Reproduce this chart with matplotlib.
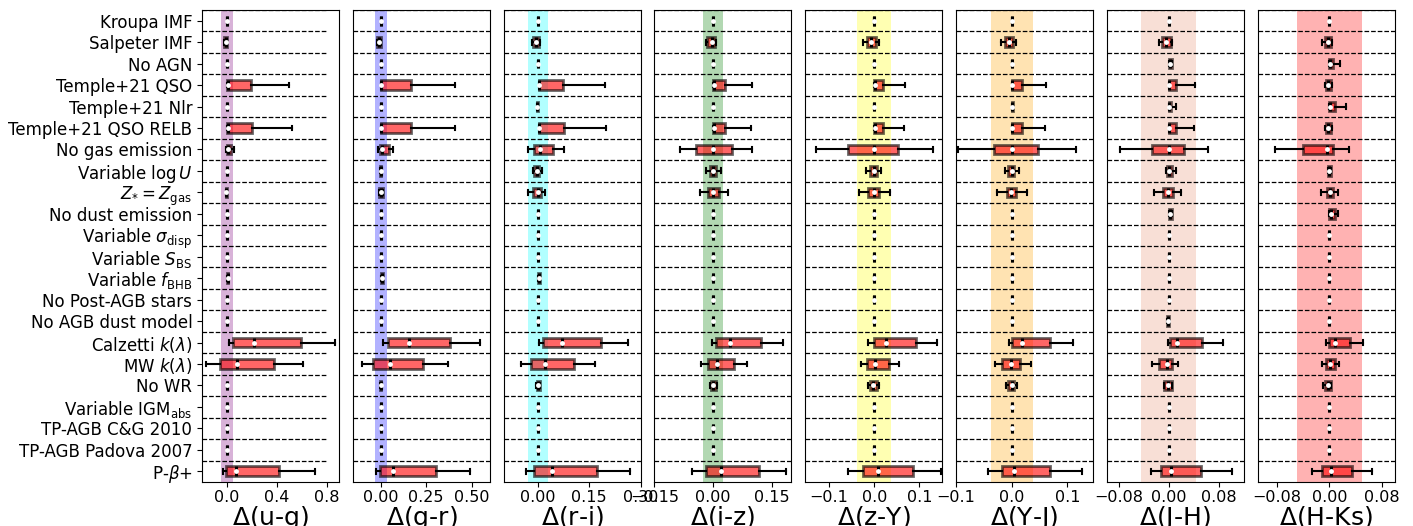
import matplotlib
matplotlib.use("Agg")
import matplotlib.pyplot as plt

# rows, top to bottom
models = ['Kroupa IMF', 'Salpeter IMF', 'No AGN', 'Temple+21 QSO', 'Temple+21 Nlr',
          'Temple+21 QSO RELB', 'No gas emission', 'Variable $\\log U$',
          '$Z_{*} = Z_{\\rm gas}$', 'No dust emission', 'Variable $\\sigma_{\\rm disp}$',
          'Variable $S_{\\rm BS}$', 'Variable $f_{\\rm BHB}$', 'No Post-AGB stars',
          'No AGB dust model', 'Calzetti $k(\\lambda)$', 'MW $k(\\lambda)$', 'No WR',
          'Variable IGM$_{\\rm abs}$', 'TP-AGB C&G 2010', 'TP-AGB Padova 2007', 'P-$\\beta$+']

Z = (0, 0, 0, 0, 0)

# (whisker low, q1, median, q3, whisker high) per model
ug_stats = [Z, (-0.02, -0.02, -0.01, 0.0, 0.0), Z, (0.0, 0.0, 0.005, 0.19, 0.50), Z,
            (0.0, 0.0, 0.005, 0.20, 0.52), (-0.01, 0.0, 0.01, 0.035, 0.06), Z,
            (-0.01, -0.01, -0.005, 0.0, 0.0), Z, Z, Z, (0.0, 0.0, 0.005, 0.01, 0.01), Z, Z,
            (0.02, 0.05, 0.215, 0.59, 0.87), (-0.17, -0.06, 0.08, 0.38, 0.61), Z, Z, Z, Z,
            (-0.035, -0.01, 0.075, 0.42, 0.71)]
gr_stats = [Z, (-0.02, -0.02, -0.01, 0.0, 0.0), Z, (0.0, 0.0, 0.003, 0.164, 0.406), Z,
            (0.0, 0.0, 0.003, 0.168, 0.41), (-0.015, -0.003, 0.009, 0.045, 0.067),
            (-0.005, -0.004, 0.0, 0.004, 0.005), (-0.01, -0.01, 0.0, 0.01, 0.01), Z, Z, Z,
            (0.0, 0.0, 0.005, 0.01, 0.01), Z, Z, (0.015, 0.042, 0.155, 0.383, 0.543),
            (-0.1, -0.04, 0.049, 0.233, 0.368), (-0.005, -0.004, 0.0, 0.004, 0.005), Z, Z, Z,
            (-0.027, -0.005, 0.067, 0.306, 0.49)]
ri_stats = [Z, (-0.016, -0.014, -0.005, 0.004, 0.005), Z, (0.002, 0.002, 0.004, 0.073, 0.196),
            (-0.003, -0.003, -0.002, 0.0, 0.0), (0.002, 0.002, 0.004, 0.075, 0.198),
            (-0.03, -0.01, 0.007, 0.045, 0.077), (-0.015, -0.01, -0.002, 0.004, 0.012),
            (-0.03, -0.015, 0.0, 0.008, 0.022), Z, Z, Z, (0.0, 0.0, 0.002, 0.005, 0.005), Z, Z,
            (0.003, 0.015, 0.071, 0.185, 0.262), (-0.05, -0.019, 0.02, 0.105, 0.167),
            (-0.005, -0.004, 0.0, 0.005, 0.006), Z, Z, Z, (-0.036, -0.012, 0.04, 0.173, 0.269)]
iz_stats = [Z, (-0.018, -0.016, -0.004, 0.004, 0.006), Z, (0.0, 0.0, 0.001, 0.031, 0.099), Z,
            (0.0, 0.0, 0.001, 0.031, 0.097), (-0.085, -0.043, 0.0, 0.048, 0.099),
            (-0.018, -0.007, 0.0, 0.008, 0.019), (-0.034, -0.013, 0.0, 0.014, 0.037),
            Z, Z, Z, Z, Z, Z, (-0.004, 0.006, 0.044, 0.123, 0.178),
            (-0.032, -0.013, 0.01, 0.054, 0.086), (-0.008, -0.006, 0.0, 0.008, 0.01), Z, Z, Z,
            (-0.053, -0.018, 0.02, 0.116, 0.186)]
zy_stats = [Z, (-0.024, -0.015, -0.007, 0.004, 0.01), Z, (0.0, 0.0, 0.001, 0.019, 0.069), Z,
            (0.0, 0.0, 0.001, 0.019, 0.067), (-0.13, -0.059, 0.0, 0.052, 0.13),
            (-0.018, -0.009, 0.0, 0.006, 0.015), (-0.033, -0.013, 0.0, 0.01, 0.036),
            Z, Z, Z, Z, Z, Z, (-0.013, 0.0, 0.027, 0.093, 0.139),
            (-0.03, -0.015, 0.002, 0.032, 0.054), (-0.013, -0.01, -0.002, 0.006, 0.011), Z, Z, Z,
            (-0.057, -0.024, 0.009, 0.086, 0.149)]
yj_stats = [Z, (-0.02, -0.012, -0.005, 0.002, 0.008), Z, (0.0, 0.0, 0.001, 0.018, 0.062),
            (0.0, 0.0, 0.001, 0.003, 0.003), (0.0, 0.0, 0.001, 0.018, 0.06),
            (-0.096, -0.031, 0.0, 0.047, 0.115), (-0.012, -0.006, 0.0, 0.004, 0.013),
            (-0.027, -0.009, -0.001, 0.008, 0.027), Z, Z, Z, Z, Z, Z,
            (-0.005, 0.0, 0.018, 0.069, 0.11), (-0.03, -0.018, -0.002, 0.015, 0.034),
            (-0.01, -0.006, 0.0, 0.005, 0.01), Z, Z, Z, (-0.043, -0.018, 0.005, 0.068, 0.127)]
jh_stats = [Z, (-0.0155, -0.01, -0.004, 0.004, 0.005), (0.0, 0.0, 0.002, 0.005, 0.005),
            (0.0, 0.0, 0.001, 0.011, 0.042), (0.0, 0.0, 0.001, 0.004, 0.012),
            (0.0, 0.0, 0.001, 0.011, 0.041), (-0.078, -0.027, 0.0, 0.025, 0.062),
            (-0.004, -0.003, 0.0, 0.005, 0.011), (-0.0235, -0.0085, -0.001, 0.007, 0.019),
            (0.0, 0.0, 0.002, 0.005, 0.006), Z, Z, Z, Z, (-0.002, -0.002, -0.001, 0.0, 0.0),
            (-0.001, 0.002, 0.014, 0.053, 0.086), (-0.026, -0.0155, -0.002, 0.006, 0.015),
            (-0.008, -0.008, -0.001, 0.006, 0.006), Z, Z, Z, (-0.028, -0.012, 0.004, 0.052, 0.101)]
hk_stats = [Z, (-0.011, -0.0065, -0.0025, 0.0025, 0.004), (0.0, 0.0, 0.001, 0.006, 0.017),
            (-0.0065, -0.005, -0.002, 0.003, 0.004), (0.0, 0.0, 0.0015, 0.009, 0.025),
            (-0.006, -0.005, -0.002, 0.003, 0.004), (-0.083, -0.041, -0.004, 0.006, 0.03),
            (-0.002, -0.002, 0.0, 0.003, 0.003), (-0.013, -0.004, 0.0015, 0.006, 0.014),
            (0.0, 0.0, 0.003, 0.008, 0.013), Z, Z, Z, Z, Z,
            (-0.005, 0.0, 0.0087, 0.0315, 0.052), (-0.0115, -0.0055, 0.0015, 0.009, 0.015),
            (-0.009, -0.006, -0.002, 0.003, 0.003), Z, Z, Z, (-0.027, -0.011, 0.002, 0.034, 0.066)]

colours = ['u-g', 'g-r', 'r-i', 'i-z', 'z-Y', 'Y-J', 'J-H', 'H-Ks']
all_stats = [ug_stats, gr_stats, ri_stats, iz_stats, zy_stats, yj_stats, jh_stats, hk_stats]
band_half = [0.05, 0.033, 0.03, 0.025, 0.0375, 0.038, 0.044, 0.05]
band_col = ['purple', 'blue', 'cyan', 'green', 'yellow', 'orange', 'darksalmon', 'red']
xlims = [(-0.2, 0.9), (-0.153, 0.60), (-0.10, 0.30), (-0.15, 0.20),
         (-0.153, 0.151), (-0.1, 0.146), (-0.099, 0.12), (-0.11, 0.10)]
xticks = [[0, 0.4, 0.8], [0, 0.25, 0.5], [0, 0.15, 0.30], [-0.15, 0, 0.15],
          [-0.1, 0, 0.1], [-0.1, 0, 0.1], [-0.08, 0, 0.08], [-0.08, 0, 0.08]]

fig, axes = plt.subplots(1, 8, figsize=(14.13, 5.26), dpi=100)
fig.subplots_adjust(left=0.143, right=0.987, top=0.981, bottom=0.0837, wspace=0.1)

pos = list(range(len(models)))

for k, ax in enumerate(axes):
    stats = []
    for lo, q1, med, q3, hi in all_stats[k]:
        stats.append(dict(whislo=lo, q1=q1, med=med, q3=q3, whishi=hi, fliers=[]))
    ax.axvspan(-band_half[k], band_half[k], color=band_col[k], alpha=0.3, lw=0, zorder=0)
    ax.bxp(stats, positions=pos, orientation='horizontal', widths=0.45, patch_artist=True,
           showfliers=False,
           boxprops=dict(facecolor='red', edgecolor='black', alpha=0.6, lw=2),
           medianprops=dict(color='black', lw=2.2),
           whiskerprops=dict(color='black', lw=1.5),
           capprops=dict(color='black', lw=1.5))
    meds = [s[2] for s in all_stats[k]]
    ax.plot(meds, pos, 'o', color='white', ms=3.5, mew=0, zorder=5)

    x0, x1 = xlims[k]
    for i in range(len(models)):
        if k == 0:
            ax.hlines(i - 0.5, x0, 0.8, colors='black', linestyles='--', lw=0.9)
        else:
            ax.axhline(i - 0.5, color='black', ls='--', lw=0.9)

    ax.set_xlim(x0, x1)
    ax.set_ylim(len(models) - 0.5, -0.5)
    ax.set_xticks(xticks[k])
    ax.tick_params(axis='x', labelsize=11.5, pad=2.5)
    ax.set_xlabel('$\\Delta$(' + colours[k] + ')', fontsize=18, labelpad=-1)
    if k == 0:
        ax.set_yticks(pos)
        ax.set_yticklabels(models, fontsize=12)
    else:
        ax.set_yticks([])

fig.savefig('out.png', dpi=100)
